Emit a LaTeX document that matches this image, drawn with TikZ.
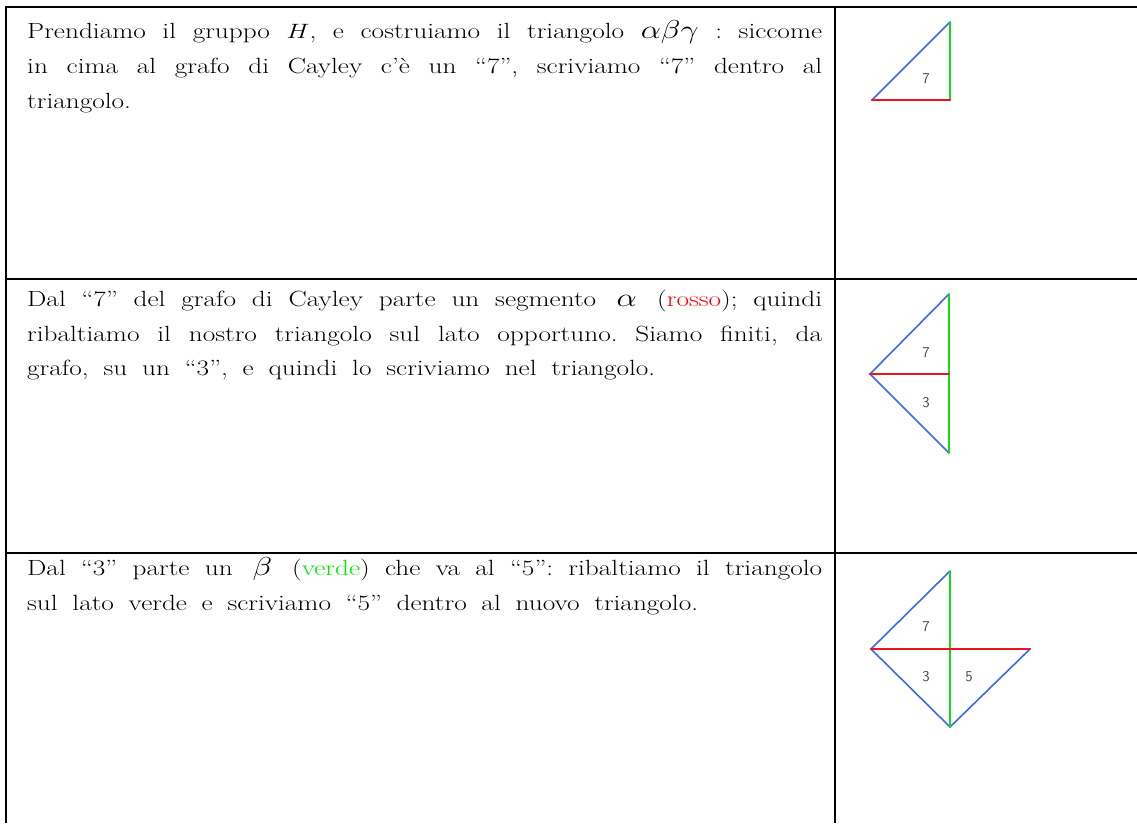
\documentclass[tikz,border=0pt]{standalone}
\usepackage{graphicx}
\definecolor{tblue}{RGB}{60,105,230}
\definecolor{tgreen}{RGB}{20,220,20}
\definecolor{tred}{RGB}{235,20,30}
\definecolor{txtgreen}{RGB}{0,235,0}
\definecolor{numgray}{RGB}{70,70,70}
\tikzset{
  rule/.style={line width=2pt, black},
  txt/.style={anchor=base west, inner sep=0pt, font=\fontsize{22}{35}\selectfont\frenchspacing},
  bl/.style={tblue, line width=1.6pt, line cap=round},
  gr/.style={tgreen, line width=1.6pt, line cap=round},
  rd/.style={tred, line width=2.4pt, line cap=round},
  num/.style={inner sep=0pt, text=numgray, font=\sffamily\fontsize{15}{15}\selectfont}
}
% #1 = target width in px divided by the horizontal stretch 1.24, #2 = text
\newcommand{\wline}[2]{\scalebox{1.24}[1]{\makebox[#1pt][s]{#2}}}
\newcommand{\nline}[1]{\scalebox{1.24}[1]{#1}}
\newcommand{\grk}[1]{\scalebox{1.25}{$#1$}}
\begin{document}
\begin{tikzpicture}[x=1pt,y=-1pt]
\useasboundingbox (0,0) rectangle (1137,823);
% table rules
\draw[rule] (6,823) -- (6,7) -- (1137,7);
\draw[rule] (6,279) -- (1137,279);
\draw[rule] (6,553) -- (1137,553);
\draw[rule] (835,7) -- (835,823);
% row 1 text  (795/1.24 = 641.1)
\node[txt] (a1) at (27,38) {\wline{641.1}{Prendiamo il gruppo $H$, e costruiamo il triangolo \grk{\alpha\beta\gamma} : siccome}};
\node[txt] (a2) at (27,73) {\wline{641.1}{in cima al grafo di Cayley c’è un “7”, scriviamo “7” dentro al}};
\node[txt] (a3) at (27,108) {\nline{triangolo.}};
% row 2 text
\node[txt] (b1) at (27,306) {\wline{641.1}{Dal “7” del grafo di Cayley parte un segmento \,\grk{\alpha}\, (\textcolor{red}{rosso}); quindi}};
\node[txt] (b2) at (27,341) {\wline{641.1}{ribaltiamo il nostro triangolo sul lato opportuno. Siamo finiti, da}};
\node[txt] (b3) at (27,375) {\wline{506.5}{grafo, su un “3”, e quindi lo scriviamo nel triangolo.}};
% row 3 text
\node[txt] (c1) at (27,575) {\wline{641.1}{Dal “3” parte un \,\grk{\beta}\, (\textcolor{txtgreen}{verde}) che va al “5”: ribaltiamo il triangolo}};
\node[txt] (c2) at (27,610) {\wline{541.1}{sul lato verde e scriviamo “5” dentro al nuovo triangolo.}};
% triangle 1
\coordinate (p1) at (872,100);
\coordinate (q1) at (950,100);
\coordinate (t1) at (950,22);
\draw[bl] (p1) -- (t1);
\draw[gr] (t1) -- (q1);
\draw[rd] (p1) -- (q1);
\node[num] (n17) at (926,79) {7};
% triangle 2
\coordinate (t2) at (949,294);
\coordinate (l2) at (870,374);
\coordinate (m2) at (949,374);
\coordinate (b2p) at (949,453);
\draw[bl] (t2) -- (l2) -- (b2p);
\draw[gr] (t2) -- (b2p);
\draw[rd] (l2) -- (m2);
\node[num] (n27) at (926,353) {7};
\node[num] (n23) at (926,403) {3};
% triangle 3
\coordinate (t3) at (950,571);
\coordinate (l3) at (871,649);
\coordinate (r3) at (1030,649);
\coordinate (b3p) at (950,727);
\draw[bl] (t3) -- (l3) -- (b3p) -- (r3);
\draw[gr] (t3) -- (b3p);
\draw[rd] (l3) -- (r3);
\node[num] (n37) at (926,627) {7};
\node[num] (n33) at (926,677) {3};
\node[num] (n35) at (969,677) {5};
\end{tikzpicture}
\end{document}
